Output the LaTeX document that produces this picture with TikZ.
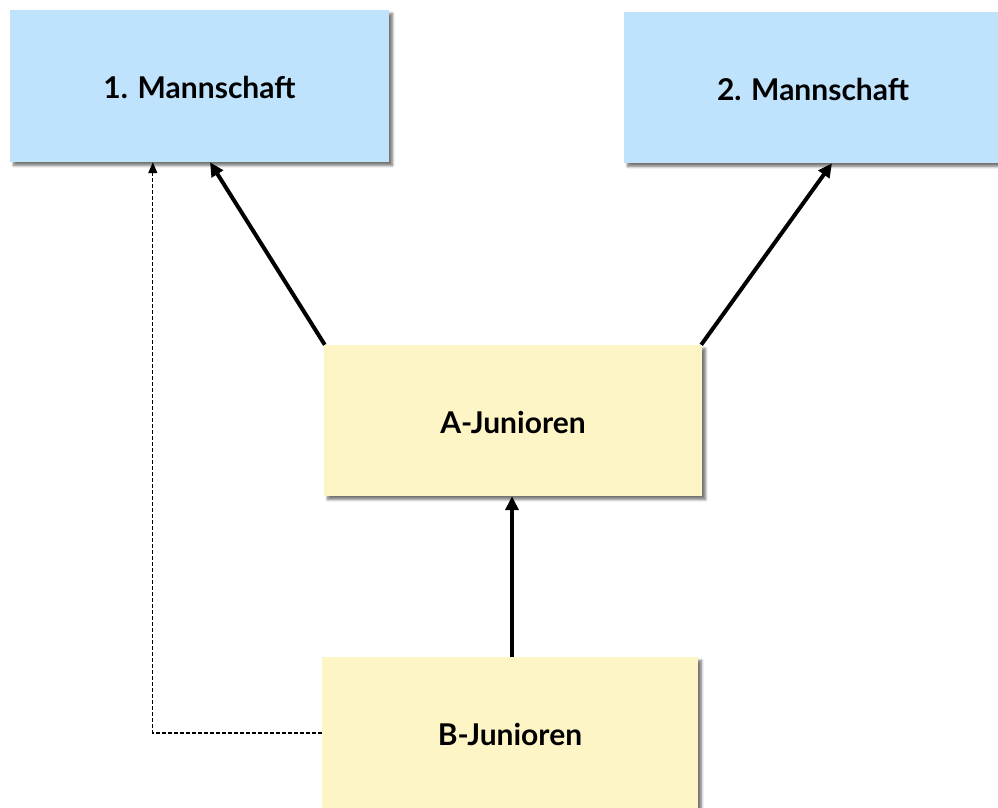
\documentclass[tikz,border=0pt]{standalone}
\usepackage{fontspec}
\setmainfont{Lato}
\usetikzlibrary{shadows.blur,arrows.meta,backgrounds,calc}
\definecolor{teamblue}{RGB}{191,227,252}
\definecolor{junyellow}{RGB}{254,245,198}
\tikzset{
  box/.style={rectangle, draw=none, inner sep=0pt, text depth=0pt, text height=25.5pt,
    font=\fontsize{30}{34}\selectfont\bfseries,
    blur shadow={shadow xshift=3.5pt, shadow yshift=-3.5pt, shadow blur radius=2.5pt, shadow blur steps=6, shadow opacity=55}},
  teambox/.style={box, fill=teamblue},
  junbox/.style={box, fill=junyellow},
  bigarrow/.style={line width=4pt, -{Triangle[length=14pt,width=13pt]}},
  dasharrow/.style={line width=1.3pt, dash pattern=on 4pt off 2pt, -{Triangle[length=11pt,width=9pt]}}
}
\begin{document}
\begin{tikzpicture}[x=1pt,y=-1pt]
\useasboundingbox (0,0) rectangle (998,808);
\node[teambox, minimum width=379pt, minimum height=152pt] (m1) at (199.5,86) {1. Mannschaft};
\node[teambox, minimum width=378pt, minimum height=151pt] (m2) at (813,87.5) {2. Mannschaft};
\node[junbox, minimum width=378pt, minimum height=151pt] (a) at (513,420.5) {A-Junioren};
\node[junbox, minimum width=376pt, minimum height=152pt] (b) at (510,733) {B-Junioren};
\begin{scope}[on background layer]
\draw[bigarrow] ($(a.north west)+(1,0)$) -- ($(m1.south)+(10.5,0)$);
\draw[bigarrow] ($(a.north east)+(-1,0)$) -- ($(m2.south)+(19,0)$);
\draw[bigarrow] ($(b.north)+(2,0)$) -- ($(a.south)+(-1,0)$);
\draw[dasharrow] (b.west) -| ($(m1.south west)+(143,0)$);
\end{scope}
\end{tikzpicture}
\end{document}
